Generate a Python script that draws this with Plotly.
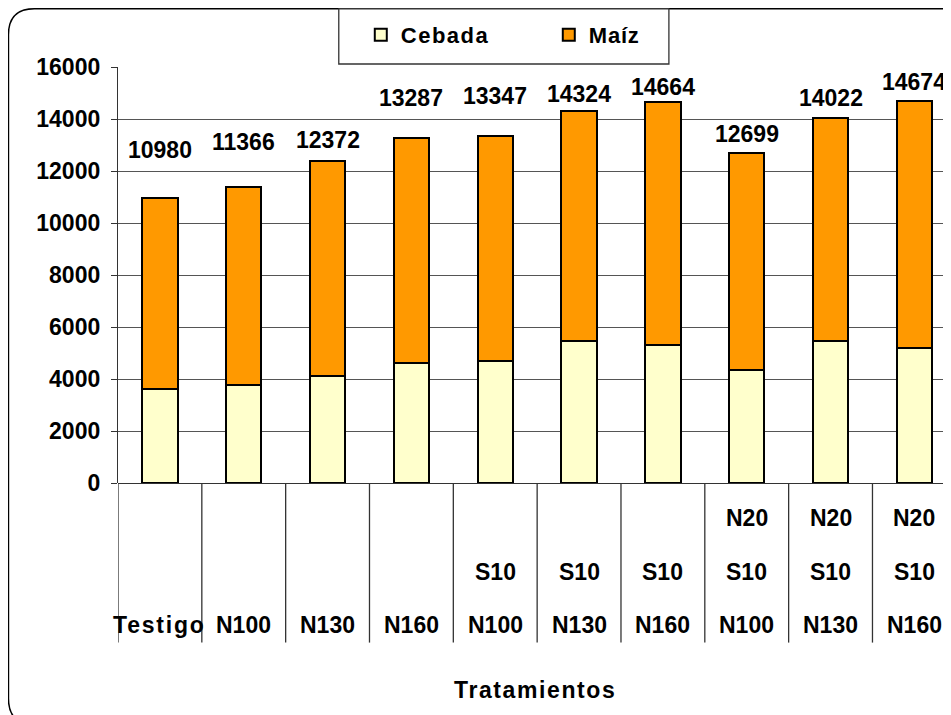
import plotly.graph_objects as go

# data
categories = ["Testigo", "N100", "N130", "N160", "S10 N100", "S10 N130", "S10 N160",
              "N20 S10 N100", "N20 S10 N130", "N20 S10 N160"]
label_top = ["", "", "", "", "", "", "", "N20", "N20", "N20"]
label_mid = ["", "", "", "", "S10", "S10", "S10", "S10", "S10", "S10"]
label_bot = ["Testigo", "N100", "N130", "N160", "N100", "N130", "N160", "N100", "N130", "N160"]
totales = [10980, 11366, 12372, 13287, 13347, 14324, 14664, 12699, 14022, 14674]
cebada = [3610, 3760, 4110, 4630, 4710, 5480, 5300, 4360, 5480, 5210]
maiz = [t - c for t, c in zip(totales, cebada)]
y_ticks = [0, 2000, 4000, 6000, 8000, 10000, 12000, 14000, 16000]

# desplazamiento de etiquetas (como en el original)
label_shift = [33, 30, 6, 25, 25, 2, 0, 4, 5, 4]

FONT = "Arial, Liberation Sans, sans-serif"
OFF = 8  # margen del body en la pagina
W_FIG, H_FIG = 951 - OFF, 715 - OFF
L, B, T = 118.3 - OFF, 483.3 - OFF, 67.0 - OFF
W = W_FIG - L
H = B - T


def pyp(p):
    # pixel de la referencia -> coordenada paper
    return (B - (p - OFF)) / H


def pxp(p):
    return ((p - OFF) - L) / W


def spaced(s, sp=1.5):
    return f'<span style="letter-spacing:{sp}px">{s}</span>'


fig = go.Figure()
fig.add_trace(go.Bar(x=categories, y=cebada, name=spaced("Cebada"),
                     marker=dict(color="#FFFFCC", line=dict(color="black", width=2))))
fig.add_trace(go.Bar(x=categories, y=maiz, name=spaced("Maíz", 0.8),
                     marker=dict(color="#FF9900", line=dict(color="black", width=2))))

annotations = []
for i, cat in enumerate(categories):
    annotations.append(dict(x=cat, y=totales[i], text=str(totales[i]), showarrow=False,
                            yanchor="bottom", yshift=label_shift[i], font=dict(size=23)))
    for row, ypix in ((label_top, 518), (label_mid, 572), (label_bot, 625)):
        if row[i]:
            txt = spaced(row[i], 1.8) if row[i] == "Testigo" else row[i]
            annotations.append(dict(x=cat, y=pyp(ypix), yref="paper", text=txt,
                                    showarrow=False, yanchor="middle", font=dict(size=23)))
annotations.append(dict(x=0.5, y=pyp(690), xref="paper", yref="paper",
                        text=spaced("Tratamientos", 1.6),
                        showarrow=False, yanchor="middle", font=dict(size=23)))

shapes = []
# separadores de categorias bajo el eje
for i in range(len(categories) + 1):
    shapes.append(dict(type="line", xref="x", yref="paper", x0=i - 0.5, x1=i - 0.5,
                       y0=0, y1=pyp(643), line=dict(color="#333", width=1.3)))

# marco redondeado
x0, x1 = pxp(OFF + 0.8), pxp(975)
y0, y1 = pyp(OFF + 0.8), pyp(725)
rx, ry = 26 / W, 26 / H
path = (f"M {x0},{y1 + ry} L {x0},{y0 - ry} Q {x0},{y0} {x0 + rx},{y0} "
        f"L {x1},{y0} L {x1},{y1} L {x0 + rx},{y1} Q {x0},{y1} {x0},{y1 + ry} Z")
shapes.append(dict(type="path", xref="paper", yref="paper", path=path,
                   line=dict(color="black", width=1.5), layer="below"))
# caja de la leyenda
shapes.append(dict(type="rect", xref="paper", yref="paper",
                   x0=pxp(339), x1=pxp(669), y0=pyp(OFF + 0.8), y1=pyp(64),
                   line=dict(color="#333", width=1.3), fillcolor="white", layer="below"))

fig.update_layout(
    width=W_FIG, height=H_FIG,
    barmode="stack", bargap=0.58,
    font=dict(family=FONT, size=23, color="black", weight="bold"),
    paper_bgcolor="white", plot_bgcolor="white",
    margin=dict(l=L, r=0, t=T, b=H_FIG - B, pad=0),
    legend=dict(orientation="h", x=pxp(361), y=pyp(14), xanchor="left", yanchor="top",
                borderwidth=0, bgcolor="rgba(0,0,0,0)",
                font=dict(size=22), entrywidth=143, traceorder="normal"),
    xaxis=dict(range=[-0.5, -0.5 + W / 83.8], showticklabels=False, ticks="",
               showgrid=False, showline=False, zeroline=False, fixedrange=True),
    yaxis=dict(range=[0, 16000], tickvals=y_ticks, ticktext=[str(v) for v in y_ticks],
               ticks="outside", ticklen=6,
               tickcolor="#333", showgrid=True, gridcolor="#555", gridwidth=1,
               showline=True, linecolor="#333", linewidth=1.3, zeroline=True,
               zerolinecolor="#333", zerolinewidth=1.3, tickfont=dict(size=23),
               ticklabelstandoff=6),
    annotations=annotations,
    shapes=shapes,
)

fig.write_html("out.html")
